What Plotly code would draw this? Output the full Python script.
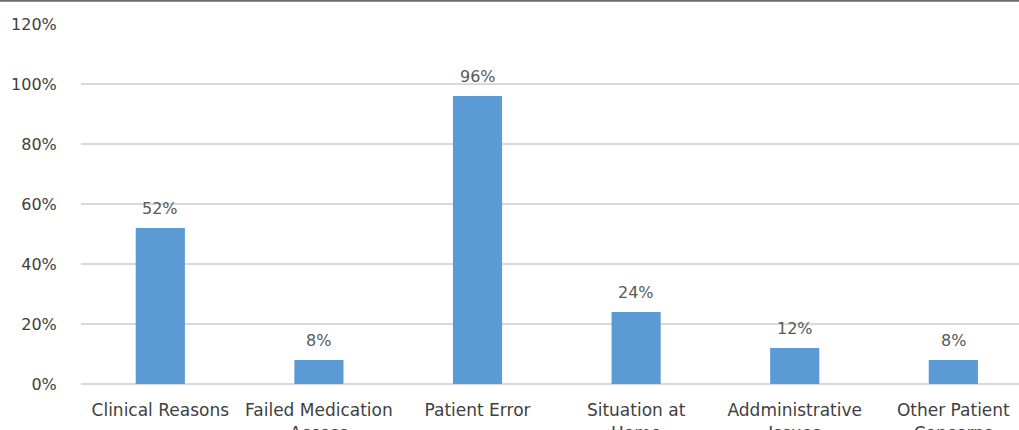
import plotly.graph_objects as go

categories = ["Clinical Reasons", "Failed Medication<br>Access", "Patient Error",
              "Situation at<br>Home", "Addministrative<br>Issues", "Other Patient<br>Concerns"]
values = [52, 8, 96, 24, 12, 8]
tick_vals = [0, 20, 40, 60, 80, 100, 120]
tick_text = ["0%", "20%", "40%", "60%", "80%", "100%", "120%"]

FONT = "DejaVu Sans"
x_idx = list(range(len(categories)))

fig = go.Figure()
fig.add_trace(go.Bar(
    x=x_idx, y=values, width=0.31,
    marker=dict(color="#5b9bd5", line=dict(width=0)),
    hoverinfo="skip",
))

for i, v in zip(x_idx, values):
    fig.add_annotation(x=i, y=v, text=f"{v}%", showarrow=False,
                       yanchor="bottom", yshift=8,
                       font=dict(family=FONT, size=16, color="#595959"))

fig.add_shape(type="line", xref="paper", yref="paper", x0=-0.2, x1=1.1,
              y0=1.0625, y1=1.0625, line=dict(color="#6e6e6e", width=2.5))

fig.update_layout(
    width=1019, height=430,
    margin=dict(l=81, r=0, t=23, b=46, autoexpand=False),
    plot_bgcolor="white", paper_bgcolor="white",
    showlegend=False,
    font=dict(family=FONT, size=16, color="#595959"),
    xaxis=dict(
        range=[-0.5, 5.414], automargin=False,
        tickmode="array", tickvals=x_idx, ticktext=categories,
        showgrid=False, zeroline=False, showline=False,
        ticks="outside", ticklen=11, tickcolor="rgba(0,0,0,0)",
        tickfont=dict(family=FONT, size=17, color="#404040"),
        tickangle=0,
    ),
    yaxis=dict(
        range=[0, 120.33], automargin=False,
        tickmode="array", tickvals=tick_vals, ticktext=tick_text,
        showgrid=True, gridcolor="#d9d9d9", gridwidth=1.5,
        zeroline=True, zerolinecolor="#d9d9d9", zerolinewidth=1.5,
        showline=False,
        ticks="outside", ticklen=20, tickcolor="rgba(0,0,0,0)",
        tickfont=dict(family=FONT, size=16, color="#404040"),
    ),
)

fig.write_html("out.html", config={"displayModeBar": False},
               post_script="document.body.style.margin='0';document.body.style.overflow='hidden';")
